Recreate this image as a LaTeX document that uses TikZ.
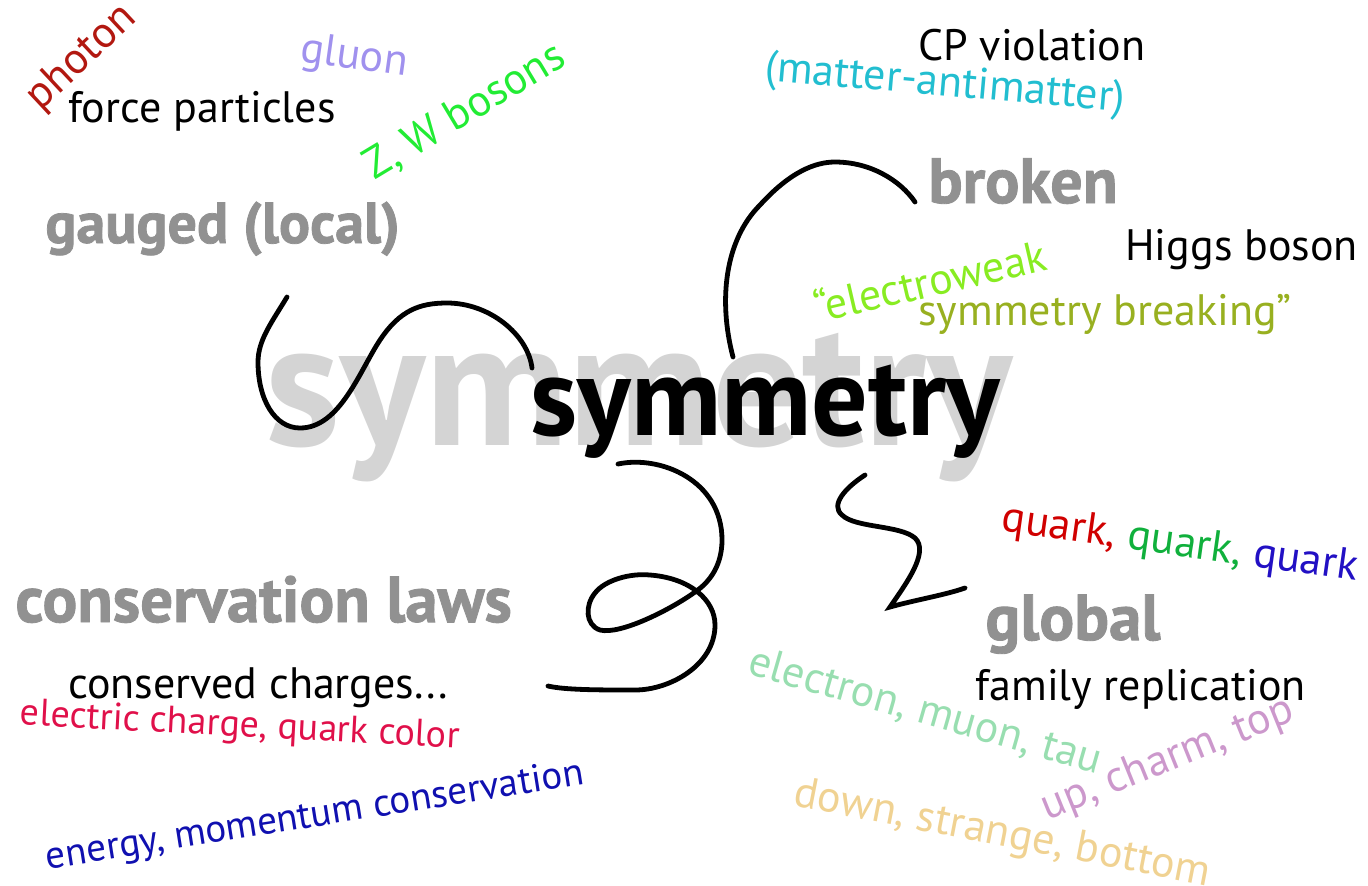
\documentclass[tikz,border=0pt]{standalone}
\usepackage{fontspec}
\setmainfont{PT Sans}
\newfontfamily\heavyfont[BoldFeatures={FakeBold=1.3}]{PT Sans}
\usepackage{tikz}
\usetikzlibrary{positioning}
\definecolor{catgray}{RGB}{145,145,145}
\definecolor{biggray}{RGB}{212,212,212}
\definecolor{photonred}{RGB}{178,24,16}
\definecolor{gluonlilac}{RGB}{160,145,238}
\definecolor{bosongreen}{RGB}{34,236,52}
\definecolor{cpcyan}{RGB}{34,190,208}
\definecolor{ewlime}{RGB}{136,236,34}
\definecolor{sbolive}{RGB}{152,176,32}
\definecolor{qred}{RGB}{208,0,0}
\definecolor{qgreen}{RGB}{16,176,60}
\definecolor{qblue}{RGB}{34,16,196}
\definecolor{chargered}{RGB}{224,16,74}
\definecolor{energyblue}{RGB}{16,16,176}
\definecolor{leptongreen}{RGB}{152,222,176}
\definecolor{uppink}{RGB}{204,152,204}
\definecolor{downtan}{RGB}{240,210,146}
\tikzset{
  term/.style={
    inner sep=0pt,
    font=\fontsize{22}{26}\selectfont
  },
  category/.style={
    inner sep=0pt,
    anchor=base west,
    text=catgray,
    font=\heavyfont\bfseries\fontsize{#1}{36}\selectfont
  },
  category/.default=31,
  squiggle/.style={
    line width=2.4pt,
    line cap=round,
    black
  }
}

\begin{document}
\begin{tikzpicture}[x=0.5pt,y=-0.5pt]
  % same frame as the reference
  \useasboundingbox (0,0) rectangle (1368,885);

  % central word
  \node[inner sep=0pt, anchor=base west, text=biggray, font=\bfseries\fontsize{89}{96}\selectfont] (bigsym) at (265,445) {symmetry};
  \node[inner sep=0pt, anchor=base west, font=\bfseries\fontsize{56}{62}\selectfont] (sym) at (530,435) {symmetry};

  % gauged corner
  \node[term, rotate=43] (photon) at (82,58) {\color{photonred}photon};
  \node[term, anchor=base west] (force) at (68,122) {force particles};
  \node[term, rotate=-8] (gluon) at (354,58) {\color{gluonlilac}gluon};
  \node[term, rotate=31] (zw) at (465,112) {\color{bosongreen}Z, W bosons};
  \node[category=29] (gauged) at (45,243) {gauged (local)};

  % broken corner
  \node[term, anchor=base west] (cp) at (918,60) {CP violation};
  \node[term, rotate=-5] (matter) at (945,85) {\color{cpcyan}(matter-antimatter)};
  \node[category=32] (broken) at (928,203) {broken};
  \node[term, anchor=base west] (higgs) at (1125,260) {Higgs boson};
  \node[term, rotate=13] (ew) at (930,280) {\color{ewlime}“electroweak};
  \node[term, anchor=base west] (sb) at (918,325) {\color{sbolive}symmetry breaking”};

  % conservation corner
  \node[category=32.5] (conservation) at (15,622) {conservation laws};
  \node[term, anchor=base west] (charges) at (68,698) {conserved charges...};
  \node[term, rotate=-3, font=\fontsize{19}{23}\selectfont] (electric) at (240,727) {\color{chargered}electric charge, quark color};
  \node[term, rotate=9, font=\fontsize{19.5}{23}\selectfont] (energy) at (315,817) {\color{energyblue}energy, momentum conservation};

  % global corner
  \node[term, rotate=-8] (quarks) at (1180,545) {\color{qred}quark, \color{qgreen}quark, \color{qblue}quark};
  \node[category=32.5] (global) at (985,640) {global};
  \node[term, anchor=base west] (family) at (975,700) {family replication};
  \node[term, rotate=-16] (leptons) at (925,712) {\color{leptongreen}electron, muon, tau};
  \node[term, rotate=22] (up) at (1168,760) {\color{uppink}up, charm, top};
  \node[term, rotate=-11] (down) at (1002,835) {\color{downtan}down, strange, bottom};

  % loose ends of the strokes
  \coordinate (g-end) at (287,297);
  \coordinate (g-sym) at (532,368);
  \coordinate (b-sym) at (733,357);
  \coordinate (b-end) at (915,202);
  \coordinate (c-sym) at (618,464);
  \coordinate (c-end) at (548,686);
  \coordinate (gl-sym) at (865,475);
  \coordinate (gl-end) at (965,588);

  % strokes
  \draw[squiggle] (g-end) .. controls (272,322) and (258,340) .. (258,362)
    .. controls (258,400) and (275,428) .. (300,428)
    .. controls (340,428) and (360,370) .. (380,340)
    .. controls (400,310) and (420,303) .. (447,303)
    .. controls (490,303) and (528,335) .. (g-sym);
  \draw[squiggle] (b-sym) .. controls (718,300) and (725,240) .. (760,205)
    .. controls (790,172) and (815,162) .. (835,162)
    .. controls (870,162) and (900,180) .. (b-end);
  \draw[squiggle] (c-sym) .. controls (660,455) and (722,480) .. (722,540)
    .. controls (722,565) and (710,582) .. (695,592)
    .. controls (670,610) and (620,635) .. (600,630)
    .. controls (585,625) and (585,605) .. (595,593)
    .. controls (605,580) and (630,573) .. (650,575)
    .. controls (690,578) and (715,600) .. (715,625)
    .. controls (715,665) and (670,690) .. (635,690)
    .. controls (600,690) and (565,690) .. (c-end);
  \draw[squiggle] (gl-sym) .. controls (845,488) and (830,505) .. (842,515)
    .. controls (855,528) and (900,525) .. (915,538)
    .. controls (930,552) and (905,585) .. (890,607)
    .. controls (915,600) and (945,595) .. (gl-end);
\end{tikzpicture}
\end{document}
